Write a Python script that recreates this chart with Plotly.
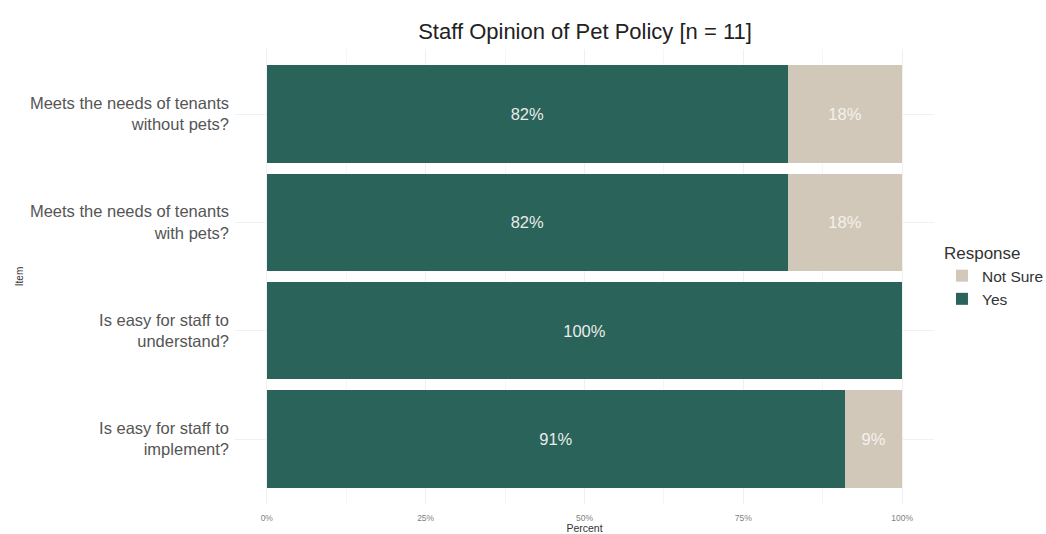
import plotly.graph_objects as go

items = [
    "Meets the needs of tenants<br>without pets?",
    "Meets the needs of tenants<br>with pets?",
    "Is easy for staff to<br>understand?",
    "Is easy for staff to<br>implement?",
]
yes_vals = [0.82, 0.82, 1.00, 0.91]
not_sure_vals = [0.18, 0.18, 0.00, 0.09]
x_ticks = [0, 0.25, 0.5, 0.75, 1.0]
x_tick_labels = ["0%", "25%", "50%", "75%", "100%"]

GREEN = "#2a6359"
TAN = "#d2c8b9"

def labels(vals):
    return [f"{round(v*100)}%" if v > 0 else "" for v in vals]

fig = go.Figure()
fig.add_trace(go.Bar(
    y=items, x=yes_vals, orientation="h", name="Yes",
    marker=dict(color=GREEN, line=dict(width=0)), width=0.9,
    text=labels(yes_vals), textposition="inside", insidetextanchor="middle",
    textfont=dict(color="#e8ecea", size=16.5, family="Liberation Sans"),
    hoverinfo="skip",
))
fig.add_trace(go.Bar(
    y=items, x=not_sure_vals, orientation="h", name="Not Sure",
    marker=dict(color=TAN, line=dict(width=0)), width=0.9,
    text=labels(not_sure_vals), textposition="inside", insidetextanchor="middle",
    textfont=dict(color="#f4f1ec", size=16.5, family="Liberation Sans"),
    hoverinfo="skip",
))

fig.update_layout(
    barmode="stack",
    width=1046, height=534,
    margin=dict(l=235, r=112, t=49, b=30, autoexpand=False),
    paper_bgcolor="white", plot_bgcolor="white",
    font=dict(family="Liberation Sans", color="#4d4d4d"),
    title=dict(text="Staff Opinion of Pet Policy [n = 11]", x=0.5593, xanchor="center",
               y=0.942, yanchor="middle", font=dict(size=22, color="#222222")),
    uniformtext=dict(mode="show", minsize=8),
    legend=dict(
        title=dict(text="Response", font=dict(size=17, color="#333333")),
        traceorder="reversed", x=1.0114, xanchor="left", y=0.5, yanchor="middle",
        font=dict(size=15.5, color="#333333"), itemsizing="constant",
        tracegroupgap=0, itemwidth=30,
    ),
    xaxis=dict(
        range=[-0.05, 1.05], tickvals=x_ticks, ticktext=x_tick_labels,
        tickfont=dict(size=8.5, color="#7f7f7f"), showgrid=True, gridcolor="#f0f0f0",
        gridwidth=1, zeroline=False, ticks="", ticklabelstandoff=7,
        minor=dict(tickvals=[0.125, 0.375, 0.625, 0.875], showgrid=True, gridcolor="#f6f6f6"),
        title=dict(text="Percent", font=dict(size=10.5, color="#333333"), standoff=2),
    ),
    yaxis=dict(
        categoryorder="array", categoryarray=items,
        range=[3.6, -0.6],
        tickfont=dict(size=16.5, color="#555555"), showgrid=True, gridcolor="#f0f0f0",
        ticks="", ticklabelstandoff=5,
        title=dict(text="Item", font=dict(size=10, color="#333333"), standoff=4),
    ),
)

fig.write_html("out.html")
